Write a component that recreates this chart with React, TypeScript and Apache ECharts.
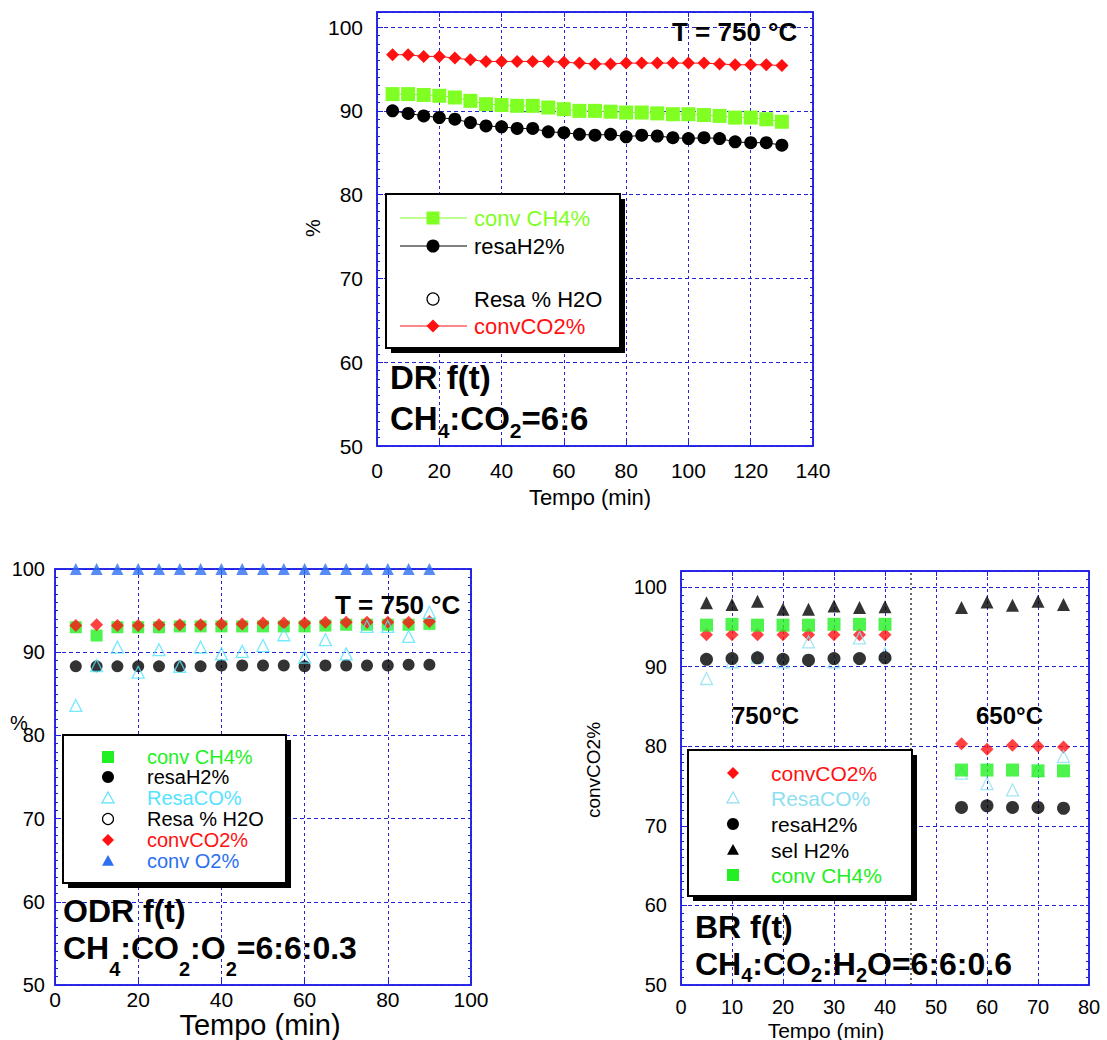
import React, { useEffect, useRef } from 'react';
import * as echarts from 'echarts';

const FONT = '"Liberation Sans", Arial, Helvetica, sans-serif';
const AXIS_BLUE = '#1f1fe6';
const GRID_BLUE = '#2424d6';
const RED = '#ff1111';
const GREEN_DR = '#7fff22';
const GREEN = '#22f022';
const CYAN = '#55e3ff';
const CYAN_BR = '#8ddff0';
const BLUE = '#2d6ff2';
const BLACK = '#000000';

// ---------- tick labels ----------
const yTickLabels = [50, 60, 70, 80, 90, 100];

// ---------- DR f(t) ----------
const drTime = [5, 10, 15, 20, 25, 30, 35, 40, 45, 50, 55, 60, 65, 70, 75, 80, 85, 90, 95, 100, 105, 110, 115, 120, 125, 130];
const drConvCH4 = [92.0, 92.0, 91.9, 91.8, 91.6, 91.2, 90.8, 90.7, 90.6, 90.6, 90.4, 90.2, 90.0, 90.0, 89.9, 89.8, 89.8, 89.7, 89.6, 89.6, 89.5, 89.4, 89.2, 89.2, 89.0, 88.7];
const drResaH2 = [90.0, 89.7, 89.4, 89.2, 89.0, 88.6, 88.2, 88.1, 87.9, 87.9, 87.5, 87.4, 87.2, 87.1, 87.2, 86.9, 87.1, 87.0, 86.8, 86.7, 86.8, 86.7, 86.3, 86.2, 86.2, 85.9];
const drConvCO2 = [96.7, 96.7, 96.5, 96.5, 96.3, 96.1, 95.9, 95.9, 95.9, 95.9, 95.9, 95.8, 95.7, 95.6, 95.6, 95.7, 95.7, 95.7, 95.7, 95.7, 95.7, 95.6, 95.5, 95.5, 95.5, 95.4];

// ---------- ODR f(t) ----------
const odrTime = [5, 10, 15, 20, 25, 30, 35, 40, 45, 50, 55, 60, 65, 70, 75, 80, 85, 90];
const odrConvCH4 = [93.0, 92.0, 93.0, 93.0, 93.0, 93.1, 93.1, 93.1, 93.1, 93.1, 93.1, 93.1, 93.2, 93.3, 93.3, 93.3, 93.3, 93.4];
const odrResaH2 = [88.3, 88.3, 88.3, 88.3, 88.3, 88.3, 88.3, 88.4, 88.4, 88.4, 88.4, 88.3, 88.4, 88.4, 88.4, 88.4, 88.5, 88.5];
const odrResaCO = [83.6, 88.4, 90.6, 87.6, 90.3, 88.3, 90.6, 89.8, 90.1, 90.8, 92.1, 89.4, 91.5, 89.8, 93.1, 93.1, 91.9, 94.8];
const odrConvCO2 = [93.2, 93.3, 93.2, 93.2, 93.3, 93.3, 93.3, 93.4, 93.4, 93.5, 93.5, 93.5, 93.6, 93.6, 93.6, 93.6, 93.6, 93.7];
const odrConvO2 = [100, 100, 100, 100, 100, 100, 100, 100, 100, 100, 100, 100, 100, 100, 100, 100, 100, 100];

// ---------- BR f(t) ----------
const brTime = [5, 10, 15, 20, 25, 30, 35, 40, 55, 60, 65, 70, 75];
const brConvCO2 = [94.0, 94.0, 94.0, 94.0, 94.0, 94.0, 94.0, 94.0, 80.3, 79.6, 80.1, 80.0, 79.9];
const brResaCO = [88.5, 90.6, 91.2, 90.6, 93.1, 90.6, 93.6, 91.6, 76.6, 75.3, 74.5, 77.0, 78.7];
const brResaH2 = [90.9, 91.0, 91.1, 90.9, 90.8, 91.0, 91.0, 91.1, 72.3, 72.5, 72.3, 72.3, 72.2];
const brSelH2 = [98.0, 97.8, 98.2, 97.2, 97.2, 97.6, 97.4, 97.5, 97.4, 98.1, 97.7, 98.2, 97.8];
const brConvCH4 = [95.2, 95.3, 95.2, 95.2, 95.2, 95.3, 95.3, 95.3, 77.0, 77.0, 77.0, 76.9, 76.9];
const brSwitchTime = 45;

const pts = (xs: number[], ys: number[]) => xs.map((x, i) => [x, ys[i]]);

function mainX(gridIndex: number, max: number, interval: number, fontSize: number, margin: number) {
  return {
    type: 'value', gridIndex, min: 0, max, interval, position: 'bottom',
    axisLine: { show: true, onZero: false, lineStyle: { color: AXIS_BLUE, width: 1.5 } },
    axisTick: { show: true, inside: true, length: 5, lineStyle: { color: AXIS_BLUE, width: 1 } },
    axisLabel: { color: '#000', fontSize, fontFamily: FONT, margin },
    splitLine: { show: true, lineStyle: { color: GRID_BLUE, width: 1, type: [3, 3] } },
  };
}
function topX(gridIndex: number, max: number, interval: number) {
  return {
    type: 'value', gridIndex, min: 0, max, interval, position: 'top',
    axisLine: { show: true, onZero: false, lineStyle: { color: AXIS_BLUE, width: 1.5 } },
    axisTick: { show: true, inside: true, length: 5, lineStyle: { color: AXIS_BLUE, width: 1 } },
    axisLabel: { show: false }, splitLine: { show: false },
  };
}
function mainY(gridIndex: number, max: number, fontSize: number, margin: number) {
  return {
    type: 'value', gridIndex, min: 50, max, interval: 10, position: 'left',
    axisLine: { show: true, onZero: false, lineStyle: { color: AXIS_BLUE, width: 1.5 } },
    axisTick: { show: true, inside: true, length: 6, lineStyle: { color: AXIS_BLUE, width: 1 } },
    axisLabel: {
      color: '#000', fontSize, fontFamily: FONT, margin,
      formatter: (v: number) => (yTickLabels.indexOf(v) >= 0 ? String(v) : ''),
    },
    splitLine: { show: true, lineStyle: { color: GRID_BLUE, width: 1, type: [4, 3] } },
  };
}
function minorY(gridIndex: number, max: number, position: string) {
  return {
    type: 'value', gridIndex, min: 50, max, interval: 1, position,
    axisLine: { show: position === 'right', onZero: false, lineStyle: { color: AXIS_BLUE, width: 1.5 } },
    axisTick: { show: true, inside: true, length: 3, lineStyle: { color: AXIS_BLUE, width: 1 } },
    axisLabel: { show: false }, splitLine: { show: false },
  };
}

let measureCtx: CanvasRenderingContext2D | null = null;
function measure(text: string, size: number, bold: boolean) {
  if (!measureCtx) measureCtx = document.createElement('canvas').getContext('2d');
  measureCtx!.font = `${bold ? 'bold ' : ''}${size}px "Liberation Sans"`;
  return measureCtx!.measureText(text).width;
}

function txt(text: string, x: number, y: number, size: number, fill: string, opts: any = {}) {
  return {
    type: 'text', x, y, z: 120, rotation: opts.rotation || 0, silent: true,
    style: {
      text, fill, fontSize: size, fontFamily: FONT, fontWeight: opts.bold ? 'bold' : 'normal',
      textAlign: opts.align || 'left', textVerticalAlign: 'middle',
    },
  };
}

function formula(x: number, y: number, segs: [string, boolean][], mainSize: number, subSize: number, subDy: number) {
  const els: any[] = [];
  let cx = x;
  for (const [t, sub] of segs) {
    const size = sub ? subSize : mainSize;
    els.push(txt(t, cx, sub ? y + subDy : y, size, '#000', { bold: true }));
    cx += measure(t, size, true);
  }
  return els;
}

function sym(kind: string, cx: number, cy: number, color: string, size: number) {
  const h = size / 2;
  const base = { z: 121, silent: true };
  switch (kind) {
    case 'square':
      return { ...base, type: 'rect', shape: { x: cx - h, y: cy - h, width: size, height: size }, style: { fill: color } };
    case 'circle':
      return { ...base, type: 'circle', shape: { cx, cy, r: h }, style: { fill: color } };
    case 'openCircle':
      return { ...base, type: 'circle', shape: { cx, cy, r: h - 0.5 }, style: { fill: '#fff', stroke: color, lineWidth: 1.2 } };
    case 'diamond':
      return { ...base, type: 'polygon', shape: { points: [[cx, cy - h], [cx + h, cy], [cx, cy + h], [cx - h, cy]] }, style: { fill: color } };
    case 'triangle':
      return { ...base, type: 'polygon', shape: { points: [[cx, cy - h], [cx + h, cy + h * 0.8], [cx - h, cy + h * 0.8]] }, style: { fill: color } };
    default:
      return { ...base, type: 'polygon', shape: { points: [[cx, cy - h], [cx + h, cy + h * 0.8], [cx - h, cy + h * 0.8]] }, style: { fill: '#fff', stroke: color, lineWidth: 1.2 } };
  }
}

function box(x: number, y: number, w: number, h: number) {
  return [
    { type: 'rect', z: 110, silent: true, shape: { x: x + 5, y: y + 5, width: w, height: h }, style: { fill: '#000' } },
    { type: 'rect', z: 111, silent: true, shape: { x, y, width: w, height: h }, style: { fill: '#fff', stroke: '#000', lineWidth: 2 } },
  ];
}

type LegendRow = { name: string; kind: string; color: string; textColor: string; y: number; line?: boolean };

function legend(bx: number, by: number, bw: number, bh: number, symX: number, textX: number, fontSize: number, symSize: number, rows: LegendRow[], lineFrom = 0, lineTo = 0) {
  const els: any[] = [...box(bx, by, bw, bh)];
  for (const r of rows) {
    if (r.line) {
      els.push({ type: 'line', z: 120, silent: true, shape: { x1: lineFrom, y1: r.y, x2: lineTo, y2: r.y }, style: { stroke: r.color, lineWidth: 1 } });
    }
    els.push(sym(r.kind, symX, r.y, r.color, symSize));
    els.push(txt(r.name, textX, r.y, fontSize, r.textColor));
  }
  return els;
}

function buildGraphics() {
  const g: any[] = [];
  // ---- DR ----
  g.push(txt('T = 750 °C', 672, 32, 26, '#000', { bold: true }));
  g.push(txt('DR f(t)', 390, 377, 33, '#000', { bold: true }));
  g.push(...formula(390, 418, [['CH', false], ['4', true], [':CO', false], ['2', true], ['=6:6', false]], 33, 21, 12));
  g.push(txt('%', 313, 228, 20, '#000', { rotation: Math.PI / 2, align: 'center' }));
  g.push(txt('Tempo (min)', 590, 497, 22, '#000', { align: 'center' }));
  g.push(...legend(386, 194, 234, 154, 433, 474, 22, 13, [
    { name: 'conv CH4%', kind: 'square', color: GREEN_DR, textColor: GREEN_DR, y: 218, line: true },
    { name: 'resaH2%', kind: 'circle', color: BLACK, textColor: BLACK, y: 246, line: true },
    { name: 'Resa % H2O', kind: 'openCircle', color: BLACK, textColor: BLACK, y: 299 },
    { name: 'convCO2%', kind: 'diamond', color: RED, textColor: RED, y: 326, line: true },
  ], 400, 467));

  // ---- ODR ----
  g.push(txt('T = 750 °C', 335, 605, 26, '#000', { bold: true }));
  g.push(txt('ODR f(t)', 63, 911, 32, '#000', { bold: true }));
  g.push(...formula(63, 948, [['CH', false], ['4', true], [':CO', false], ['2', true], [':O', false], ['2', true], ['=6:6:0.3', false]], 32, 20, 21));
  g.push(txt('%', 19, 723, 20, '#000', { align: 'center' }));
  g.push(txt('Tempo (min)', 260, 1025, 29, '#000', { align: 'center' }));
  g.push(...legend(63, 735, 223, 148, 108, 147, 20, 12, [
    { name: 'conv CH4%', kind: 'square', color: GREEN, textColor: GREEN, y: 757 },
    { name: 'resaH2%', kind: 'circle', color: BLACK, textColor: BLACK, y: 777 },
    { name: 'ResaCO%', kind: 'openTriangle', color: CYAN, textColor: CYAN, y: 798 },
    { name: 'Resa % H2O', kind: 'openCircle', color: BLACK, textColor: BLACK, y: 819 },
    { name: 'convCO2%', kind: 'diamond', color: RED, textColor: RED, y: 840 },
    { name: 'conv O2%', kind: 'triangle', color: BLUE, textColor: BLUE, y: 861 },
  ]));

  // ---- BR ----
  g.push(txt('750°C', 732, 715, 24, '#000', { bold: true }));
  g.push(txt('650°C', 976, 715, 24, '#000', { bold: true }));
  g.push(txt('BR f(t)', 695, 927, 32, '#000', { bold: true }));
  g.push(...formula(695, 964, [['CH', false], ['4', true], [':CO', false], ['2', true], [':H', false], ['2', true], ['O=6:6:0.6', false]], 32, 20, 11));
  g.push(txt('convCO2%', 593, 770, 19, '#000', { rotation: Math.PI / 2, align: 'center' }));
  g.push(txt('Tempo (min)', 826, 1030, 21, '#000', { align: 'center' }));
  g.push(...legend(688, 750, 224, 146, 733, 771, 21, 12, [
    { name: 'convCO2%', kind: 'diamond', color: RED, textColor: RED, y: 773 },
    { name: 'ResaCO%', kind: 'openTriangle', color: CYAN_BR, textColor: CYAN_BR, y: 798 },
    { name: 'resaH2%', kind: 'circle', color: BLACK, textColor: BLACK, y: 824 },
    { name: 'sel H2%', kind: 'triangle', color: BLACK, textColor: BLACK, y: 850 },
    { name: 'conv CH4%', kind: 'square', color: GREEN, textColor: GREEN, y: 875 },
  ]));
  return g;
}

function buildOption() {
  const openTri = (color: string) => ({ color: 'rgba(255,255,255,0)', borderColor: color, borderWidth: 1.3 });
  return {
    animation: false,
    backgroundColor: '#ffffff',
    grid: [
      { left: 377, top: 12, width: 436, height: 434, show: true, borderColor: AXIS_BLUE, borderWidth: 1.5, backgroundColor: 'transparent' },
      { left: 55, top: 569, width: 416, height: 416, show: true, borderColor: AXIS_BLUE, borderWidth: 1.5, backgroundColor: 'transparent' },
      { left: 681, top: 571, width: 408, height: 414, show: true, borderColor: AXIS_BLUE, borderWidth: 1.5, backgroundColor: 'transparent' },
    ],
    xAxis: [
      mainX(0, 140, 20, 21, 14),
      mainX(1, 100, 20, 21, 4),
      mainX(2, 80, 10, 20, 12),
      topX(0, 140, 20),
      topX(1, 100, 20),
      topX(2, 80, 10),
    ],
    yAxis: [
      mainY(0, 101.8, 21, 14),
      mainY(1, 100, 20, 10),
      mainY(2, 102, 20, 14),
      minorY(0, 101.8, 'left'),
      minorY(0, 101.8, 'right'),
      minorY(1, 100, 'left'),
      minorY(1, 100, 'right'),
      minorY(2, 102, 'left'),
      minorY(2, 102, 'right'),
    ],
    series: [
      // DR
      { type: 'line', name: 'conv CH4%', xAxisIndex: 0, yAxisIndex: 0, data: pts(drTime, drConvCH4), symbol: 'rect', symbolSize: 14, itemStyle: { color: GREEN_DR }, lineStyle: { color: GREEN_DR, width: 1 }, silent: true },
      { type: 'line', name: 'resaH2%', xAxisIndex: 0, yAxisIndex: 0, data: pts(drTime, drResaH2), symbol: 'circle', symbolSize: 13, itemStyle: { color: BLACK }, lineStyle: { color: BLACK, width: 1 }, silent: true },
      { type: 'line', name: 'convCO2%', xAxisIndex: 0, yAxisIndex: 0, data: pts(drTime, drConvCO2), symbol: 'diamond', symbolSize: 13, itemStyle: { color: RED }, lineStyle: { color: RED, width: 1 }, silent: true },
      // ODR
      { type: 'scatter', name: 'conv CH4%', xAxisIndex: 1, yAxisIndex: 1, data: pts(odrTime, odrConvCH4), symbol: 'rect', symbolSize: 12, itemStyle: { color: GREEN }, silent: true },
      { type: 'scatter', name: 'convCO2%', xAxisIndex: 1, yAxisIndex: 1, data: pts(odrTime, odrConvCO2), symbol: 'diamond', symbolSize: 13, itemStyle: { color: RED }, silent: true },
      { type: 'scatter', name: 'resaH2%', xAxisIndex: 1, yAxisIndex: 1, data: pts(odrTime, odrResaH2), symbol: 'circle', symbolSize: 12, itemStyle: { color: BLACK }, silent: true },
      { type: 'scatter', name: 'ResaCO%', xAxisIndex: 1, yAxisIndex: 1, data: pts(odrTime, odrResaCO), symbol: 'triangle', symbolSize: 12, itemStyle: openTri(CYAN), silent: true },
      { type: 'scatter', name: 'conv O2%', xAxisIndex: 1, yAxisIndex: 1, data: pts(odrTime, odrConvO2), symbol: 'triangle', symbolSize: 12, itemStyle: { color: BLUE }, silent: true },
      // BR
      {
        type: 'scatter', name: 'convCO2%', xAxisIndex: 2, yAxisIndex: 2, data: pts(brTime, brConvCO2), symbol: 'diamond', symbolSize: 13, itemStyle: { color: RED }, silent: true,
        markLine: { silent: true, symbol: ['none', 'none'], label: { show: false }, lineStyle: { color: '#333', type: [2, 3], width: 1.5 }, data: [{ xAxis: brSwitchTime }] },
      },
      { type: 'scatter', name: 'ResaCO%', xAxisIndex: 2, yAxisIndex: 2, data: pts(brTime, brResaCO), symbol: 'triangle', symbolSize: 12, itemStyle: openTri(CYAN_BR), silent: true },
      { type: 'scatter', name: 'resaH2%', xAxisIndex: 2, yAxisIndex: 2, data: pts(brTime, brResaH2), symbol: 'circle', symbolSize: 13, itemStyle: { color: BLACK }, silent: true },
      { type: 'scatter', name: 'sel H2%', xAxisIndex: 2, yAxisIndex: 2, data: pts(brTime, brSelH2), symbol: 'triangle', symbolSize: 13, itemStyle: { color: BLACK }, silent: true },
      { type: 'scatter', name: 'conv CH4%', xAxisIndex: 2, yAxisIndex: 2, data: pts(brTime, brConvCH4), symbol: 'rect', symbolSize: 13, itemStyle: { color: GREEN }, silent: true },
    ],
    graphic: buildGraphics(),
  };
}

export default function App() {
  const ref = useRef<HTMLDivElement>(null);
  useEffect(() => {
    if (!ref.current) return;
    const chart = echarts.init(ref.current, null, { renderer: 'svg' });
    chart.setOption(buildOption() as any);
    return () => chart.dispose();
  }, []);
  return (
    <div
      ref={ref}
      style={{ position: 'absolute', left: 0, top: 0, width: 1107, height: 1040, background: '#fff' }}
    />
  );
}
